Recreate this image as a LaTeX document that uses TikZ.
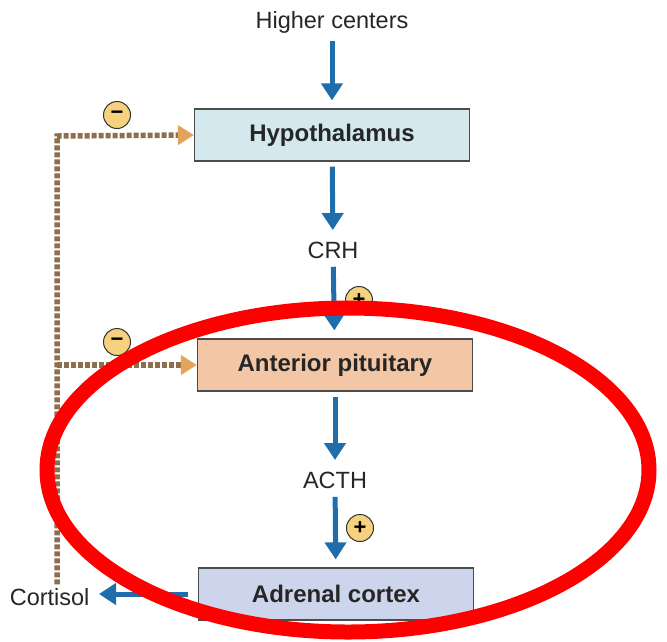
\documentclass[tikz,border=0pt]{standalone}
\usepackage{fontspec}
\setmainfont{Liberation Sans}
\usetikzlibrary{arrows.meta}
\definecolor{hormblue}{HTML}{1F6EAB}
\definecolor{fbbrown}{HTML}{8E6E4E}
\definecolor{fborange}{HTML}{E2A35A}
\definecolor{signyellow}{HTML}{F6D27E}
\definecolor{hypofill}{HTML}{D3E9ED}
\definecolor{pitfill}{HTML}{F3C7A6}
\definecolor{adrfill}{HTML}{CCD5EC}
\begin{document}
\begin{tikzpicture}[x=1pt,y=-1pt,
    organ/.style={draw=black!70,line width=1.2pt,minimum width=275pt,minimum height=52pt,
        text=black!85,font=\fontsize{24}{28}\selectfont\bfseries},
    signal/.style={text=black!85,font=\fontsize{23.5}{28}\selectfont},
    flow/.style={hormblue,line width=5pt,shorten <=5pt,shorten >=8pt,
        -{Triangle[width=21pt,length=17pt]}},
    feedback/.style={fbbrown,line width=5.5pt,dash pattern=on 5pt off 2pt,
        -{Triangle[width=19pt,length=16pt,color=fborange]}},
    sign/.style={circle,draw=black!80,line width=1pt,fill=signyellow,minimum size=27pt,
        inner sep=0pt,font=\fontsize{22}{22}\selectfont\bfseries}]
    \useasboundingbox (0,0) rectangle (667,641);
    % chain of glands
    \node[signal,anchor=base] (higher) at (332,28) {Higher centers};
    \node[organ,fill=hypofill] (hypo) at (332,135) {Hypothalamus};
    \node[signal,anchor=base] (crh) at (333,258) {CRH};
    \node[organ,fill=pitfill] (pit) at (335,365) {Anterior pituitary};
    \node[signal,anchor=base] (acth) at (335,488) {ACTH};
    \node[organ,fill=adrfill] (adr) at (336,594) {Adrenal cortex};
    \node[signal,anchor=base east] (cortisol) at (93,605) {Cortisol};
    \draw[flow] (higher) -- (hypo);
    \draw[flow] (hypo) -- (crh);
    \draw[flow] (crh) -- (pit);
    \draw[flow] (pit) -- (acth);
    \draw[flow] (acth) -- (adr);
    \draw[flow,shorten <=10pt,shorten >=6pt] (adr.west) -- (adr.west -| cortisol.east);
    \node[sign] (plus1) at (359,300) {+};
    \node[sign] (plus2) at (360,528) {+};
    % negative feedback
    \coordinate (fbtop) at (57,136);
    \draw[feedback] (cortisol.north -| fbtop) -- (fbtop) -- (hypo.west);
    \draw[feedback] (fbtop |- pit.west) -- (pit.west);
    \node[sign] (minus1) at (117,115) {−};
    \node[sign] (minus2) at (117,342) {−};
    % highlight
    \draw[red,line width=15pt] (348,470) ellipse [x radius=301pt,y radius=162pt];
\end{tikzpicture}
\end{document}
